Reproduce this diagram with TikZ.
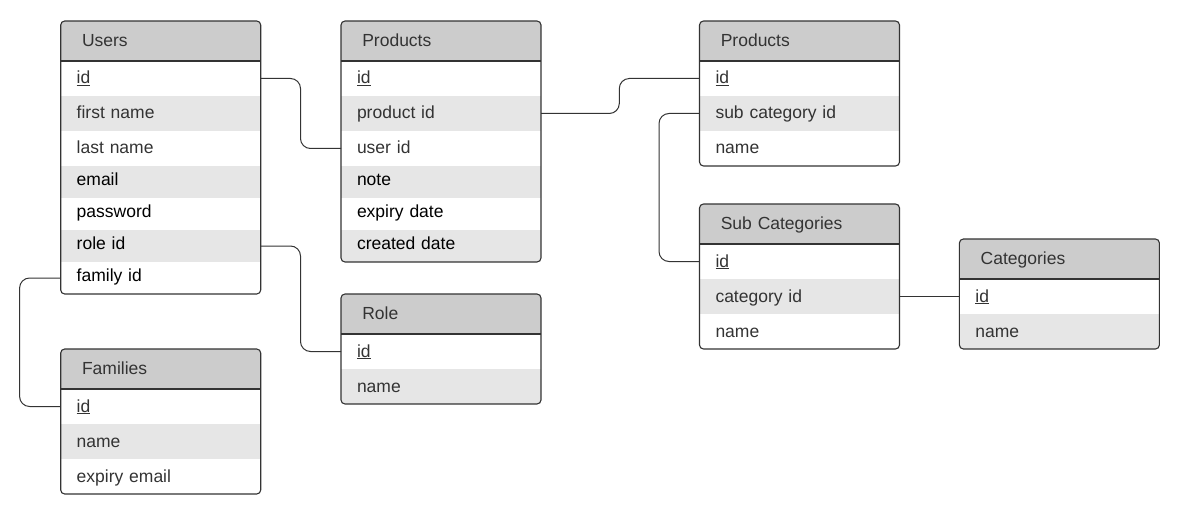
\documentclass[tikz,border=0pt]{standalone}
\usepackage{fontspec}
\setmainfont{Liberation Sans}
\usetikzlibrary{calc}
\definecolor{hdrgray}{HTML}{CCCCCC}
\definecolor{rowgray}{HTML}{E6E6E6}
\definecolor{ink}{HTML}{333333}
\newcommand{\erfont}{\fontsize{17.5pt}{21pt}\selectfont}
\begin{document}
\begin{tikzpicture}[x=1pt,y=-1pt,
  hdr/.style={anchor=north west, fill=hdrgray, minimum height=40pt, text width=157.4pt, inner xsep=21.3pt, inner ysep=0pt, outer sep=0pt, align=left, text height=12.4pt, text depth=1pt, font=\erfont, text=ink},
  row/.style={anchor=north west, minimum height=#1, text width=168pt, inner xsep=16pt, inner ysep=0pt, outer sep=0pt, align=left, text height=12pt, text depth=1pt, font=\erfont, text=ink},
  row/.default=35pt,
  zebra/.style={fill=rowgray},
  blk/.style={text=black, text height=8pt, text depth=1pt},
  frame/.style={draw=ink, line width=1.1pt, rounded corners=4pt},
  hline/.style={draw=ink, line width=1.1pt},
  conn/.style={draw=ink, line width=1pt, rounded corners=10pt}]
\useasboundingbox (0,0) rectangle (1180,513);

% Users
\begin{scope}
\clip[rounded corners=4pt] (60.7,21) rectangle ++(200,273);
\node[hdr] (uh) at (60.7,21) {Users};
\node[row] (u1) at (uh.south west) {\underline{id}};
\node[row,zebra] (u2) at (u1.south west) {first name};
\node[row] (u3) at (u2.south west) {last name};
\node[row=32pt,zebra,blk] (u4) at (u3.south west) {email};
\node[row=32pt,blk] (u5) at (u4.south west) {password};
\node[row=32pt,zebra,blk] (u6) at (u5.south west) {role id};
\node[row=32pt,blk] (u7) at (u6.south west) {family id};
\end{scope}
\draw[frame] (uh.north west) rectangle (u7.south east);
\draw[hline] (uh.south west) -- (uh.south east);

% Products (left)
\begin{scope}
\clip[rounded corners=4pt] (341,21) rectangle ++(200,241);
\node[hdr] (ph) at (341,21) {Products};
\node[row] (p1) at (ph.south west) {\underline{id}};
\node[row,zebra] (p2) at (p1.south west) {product id};
\node[row] (p3) at (p2.south west) {user id};
\node[row=32pt,zebra,blk] (p4) at (p3.south west) {note};
\node[row=32pt,blk] (p5) at (p4.south west) {expiry date};
\node[row=32pt,zebra,blk] (p6) at (p5.south west) {created date};
\end{scope}
\draw[frame] (ph.north west) rectangle (p6.south east);
\draw[hline] (ph.south west) -- (ph.south east);

% Products (right)
\begin{scope}
\clip[rounded corners=4pt] (699.5,21) rectangle ++(200,145);
\node[hdr] (qh) at (699.5,21) {Products};
\node[row] (q1) at (qh.south west) {\underline{id}};
\node[row,zebra] (q2) at (q1.south west) {sub category id};
\node[row] (q3) at (q2.south west) {name};
\end{scope}
\draw[frame] (qh.north west) rectangle (q3.south east);
\draw[hline] (qh.south west) -- (qh.south east);

% Sub Categories
\begin{scope}
\clip[rounded corners=4pt] (699.5,204) rectangle ++(200,145);
\node[hdr] (sh) at (699.5,204) {Sub Categories};
\node[row] (s1) at (sh.south west) {\underline{id}};
\node[row,zebra] (s2) at (s1.south west) {category id};
\node[row] (s3) at (s2.south west) {name};
\end{scope}
\draw[frame] (sh.north west) rectangle (s3.south east);
\draw[hline] (sh.south west) -- (sh.south east);

% Categories
\begin{scope}
\clip[rounded corners=4pt] (959.4,239) rectangle ++(200,110);
\node[hdr] (ch) at (959.4,239) {Categories};
\node[row] (c1) at (ch.south west) {\underline{id}};
\node[row,zebra] (c2) at (c1.south west) {name};
\end{scope}
\draw[frame] (ch.north west) rectangle (c2.south east);
\draw[hline] (ch.south west) -- (ch.south east);

% Role
\begin{scope}
\clip[rounded corners=4pt] (341,294) rectangle ++(200,110);
\node[hdr] (rh) at (341,294) {Role};
\node[row] (r1) at (rh.south west) {\underline{id}};
\node[row,zebra] (r2) at (r1.south west) {name};
\end{scope}
\draw[frame] (rh.north west) rectangle (r2.south east);
\draw[hline] (rh.south west) -- (rh.south east);

% Families
\begin{scope}
\clip[rounded corners=4pt] (60.7,349) rectangle ++(200,145);
\node[hdr] (fh) at (60.7,349) {Families};
\node[row] (f1) at (fh.south west) {\underline{id}};
\node[row,zebra] (f2) at (f1.south west) {name};
\node[row] (f3) at (f2.south west) {expiry email};
\end{scope}
\draw[frame] (fh.north west) rectangle (f3.south east);
\draw[hline] (fh.south west) -- (fh.south east);

% connectors
\coordinate (m1) at (300.5,0);
\coordinate (m2) at (19.6,0);
\coordinate (m3) at (619.3,0);
\coordinate (m4) at (659,0);
\draw[conn] (u1.east) -- (u1.east -| m1) -- (p3.west -| m1) -- (p3.west);
\draw[conn] (u6.east) -- (u6.east -| m1) -- (r1.west -| m1) -- (r1.west);
\draw[conn] (u7.west) -- (u7.west -| m2) -- (f1.west -| m2) -- (f1.west);
\draw[conn] (p2.east) -- (p2.east -| m3) -- (q1.west -| m3) -- (q1.west);
\draw[conn] (q2.west) -- (q2.west -| m4) -- (s1.west -| m4) -- (s1.west);
\draw[conn] (s2.east) -- (c1.west);
\end{tikzpicture}
\end{document}
